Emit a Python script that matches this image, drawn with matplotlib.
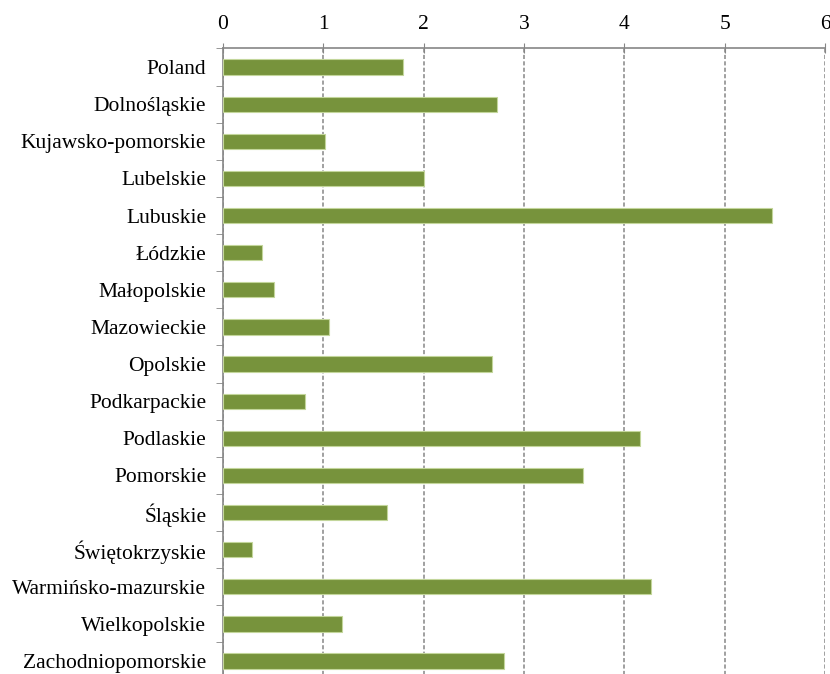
import numpy as np
import matplotlib.pyplot as plt

plt.rcParams['font.family'] = ['Liberation Serif', 'DejaVu Serif']

regions = ['Poland', 'Dolnośląskie', 'Kujawsko-pomorskie', 'Lubelskie', 'Lubuskie',
           'Łódzkie', 'Małopolskie', 'Mazowieckie', 'Opolskie', 'Podkarpackie',
           'Podlaskie', 'Pomorskie', 'Śląskie', 'Świętokrzyskie',
           'Warmińsko-mazurskie', 'Wielkopolskie', 'Zachodniopomorskie']
values = [1.79, 2.73, 1.02, 2.00, 5.47, 0.39, 0.51, 1.06, 2.68, 0.82,
          4.16, 3.59, 1.63, 0.29, 4.27, 1.19, 2.80]
xticks = [0, 1, 2, 3, 4, 5, 6]

fig = plt.figure(figsize=(8.3, 6.74), dpi=100)
ax = fig.add_axes([0.2687, -0.0083, 0.7253, 0.9364])

ypos = np.arange(len(regions))
ax.barh(ypos, values, height=0.41, color='#77933C', edgecolor='#C3D69B', linewidth=0.8, zorder=3)

ax.set_xlim(0, 6)
ax.set_ylim(len(regions) - 0.5, -0.5)
ax.set_xticks(xticks)
ax.set_xticklabels([str(t) for t in xticks])
ax.xaxis.tick_top()
ax.tick_params(axis='x', which='major', direction='inout', length=7, color='#868686',
               labelsize=15.5, pad=7)

ax.set_yticks(ypos)
ax.set_yticklabels(regions)
ax.tick_params(axis='y', which='major', length=0, labelsize=15.5, pad=12)
ax.set_yticks(np.arange(-0.5, len(regions) + 0.5, 1), minor=True)
ax.tick_params(axis='y', which='minor', direction='out', length=5, color='#868686')

# dashed vertical gridlines
ax.xaxis.grid(True, linestyle=(0, (2.7, 1.5)), color='#868686', linewidth=1.1, zorder=0)
for s in ['right', 'bottom']:
    ax.spines[s].set_visible(False)
for s in ['top', 'left']:
    ax.spines[s].set_color('#868686')
    ax.spines[s].set_linewidth(1.2)

fig.savefig('out.png', dpi=100)
